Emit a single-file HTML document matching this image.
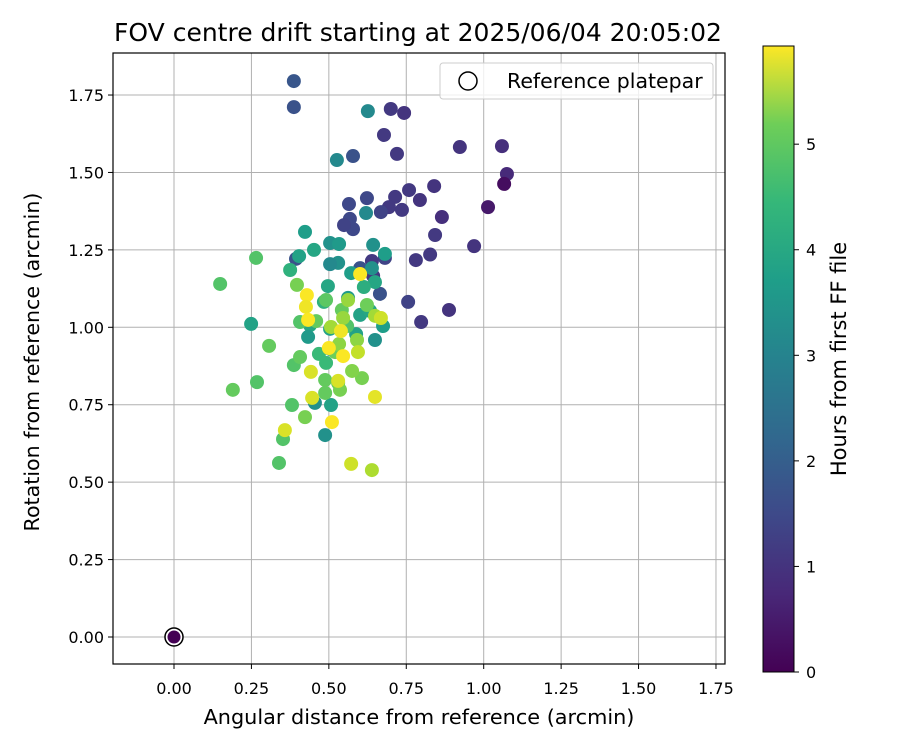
<!DOCTYPE html>
<html><head><meta charset="utf-8"><style>
body{margin:0;background:#fff;}
svg text{font-family:"DejaVu Sans","Liberation Sans",sans-serif;fill:#000;}
</style></head><body>
<svg id="chart" width="900" height="750" xmlns="http://www.w3.org/2000/svg">
<defs><linearGradient id="vir" x1="0" y1="1" x2="0" y2="0">
<stop offset="0" stop-color="#440154"/><stop offset="0.125" stop-color="#482878"/><stop offset="0.25" stop-color="#3e4989"/><stop offset="0.375" stop-color="#31688e"/><stop offset="0.5" stop-color="#26828e"/><stop offset="0.625" stop-color="#1f9e89"/><stop offset="0.75" stop-color="#35b779"/><stop offset="0.875" stop-color="#6ece58"/><stop offset="1" stop-color="#fde725"/>
</linearGradient></defs>
</svg>
<script>
const xs=[0.387,0.387,0.743,0.70,0.678,0.72,0.923,1.059,1.075,1.066,1.014,0.969,0.888,0.798,0.756,0.781,0.827,0.843,0.865,0.84,0.794,0.759,0.714,0.694,0.736,0.668,0.681,0.639,0.643,0.665,0.578,0.568,0.565,0.623,0.578,0.394,0.549,0.601,
0.626,0.526,0.62,0.423,0.452,0.404,0.375,0.504,0.533,0.53,0.504,0.643,0.681,0.639,0.649,0.613,0.497,0.572,0.562,0.601,0.633,0.675,0.649,0.588,0.439,0.433,0.249,0.484,0.504,0.455,0.507,0.488,0.504,
0.149,0.265,0.268,0.19,0.307,0.339,0.352,0.381,0.387,0.407,0.397,0.407,0.423,0.468,0.491,0.488,0.488,0.53,0.536,0.559,0.542,0.607,0.575,0.591,0.623,0.52,0.459,0.491,
0.562,0.546,0.507,0.533,0.649,0.594,
0.429,0.426,0.433,0.442,0.446,0.53,0.51,0.546,0.5,0.539,0.668,0.649,0.572,0.639,0.601,0.358];
const ys=[1.795,1.711,1.692,1.705,1.621,1.56,1.582,1.585,1.495,1.463,1.388,1.262,1.056,1.017,1.082,1.217,1.235,1.298,1.356,1.456,1.411,1.443,1.421,1.388,1.379,1.372,1.224,1.214,1.166,1.108,1.317,1.35,1.398,1.417,1.553,1.221,1.33,1.191,
1.698,1.54,1.369,1.308,1.25,1.23,1.185,1.272,1.269,1.208,1.204,1.266,1.237,1.191,1.146,1.13,1.133,1.175,1.095,1.04,1.053,1.004,0.959,0.978,1.007,0.969,1.011,1.082,0.995,0.756,0.749,0.652,0.93,
1.14,1.224,0.823,0.798,0.94,0.562,0.639,0.749,0.878,0.904,1.137,1.017,0.71,0.914,0.885,0.83,0.788,0.82,0.798,1.004,1.056,0.836,0.859,0.959,1.072,0.92,1.02,1.088,
1.088,1.03,1.001,0.946,1.037,0.92,
1.104,1.066,1.024,0.856,0.772,0.827,0.694,0.907,0.933,0.988,1.03,0.775,0.559,0.539,1.172,0.668];
const hours=[1.6,1.5,0.9,1.0,1.0,1.0,0.9,0.8,0.7,0.2,0.4,0.9,0.9,1.0,1.2,1.0,1.0,1.0,0.8,0.9,0.9,1.0,1.0,1.0,1.0,1.2,1.2,1.0,1.0,1.5,1.3,1.3,1.3,1.3,1.5,1.5,1.2,1.5,
2.8,2.8,2.8,3.3,3.5,3.4,3.8,3.0,3.2,3.0,2.8,3.0,3.3,3.0,3.5,3.7,3.5,3.3,3.2,3.4,3.5,3.3,3.0,3.4,3.5,3.2,3.4,3.8,3.4,3.0,3.4,3.0,3.2,
4.3,4.3,4.3,4.5,4.5,4.3,4.3,4.3,4.3,4.5,4.7,4.3,4.7,4.0,4.0,4.5,4.5,4.5,4.7,4.3,4.5,4.7,4.8,4.9,4.6,4.6,4.5,4.4,
5.0,5.0,5.1,4.9,5.1,5.4,
5.9,5.8,5.9,5.6,5.6,5.6,5.9,5.9,5.9,5.8,5.5,5.7,5.5,5.2,5.9,5.6];
const xTicks=[0,0.25,0.5,0.75,1.0,1.25,1.5,1.75];
const yTicks=[0,0.25,0.5,0.75,1.0,1.25,1.5,1.75];
const cTicks=[0,1,2,3,4,5];
const HMAX=5.93;
const L=113,R=725,T=53,B=664;
const sx=v=>174+v*309.7, sy=v=>637-v*309.7;
const cs=v=>672-v*(626/HMAX);
const vir=[[68,1,84],[72,40,120],[62,73,137],[49,104,142],[38,130,142],[31,158,137],[53,183,121],[110,206,88],[181,222,43],[253,231,37]];
function col(h){let t=Math.max(0,Math.min(1,h/HMAX))*(vir.length-1);let i=Math.min(vir.length-2,Math.floor(t)),f=t-i;
return 'rgb('+vir[i].map((c,k)=>Math.round(c+(vir[i+1][k]-c)*f)).join(',')+')';}
const svg=document.getElementById('chart');const NS='http://www.w3.org/2000/svg';
function mk(tag,at,txt){const e=document.createElementNS(NS,tag);for(const k in at)e.setAttribute(k,at[k]);if(txt!==undefined)e.textContent=txt;svg.appendChild(e);return e;}
xTicks.forEach(v=>{const x=sx(v);
const g=mk('line',{x1:x,x2:x,y1:T,y2:B,stroke:'#b0b0b0','stroke-width':1});


const tk=mk('line',{x1:x,x2:x,y1:B,y2:B+5,stroke:'#000','stroke-width':1});


const t=mk('text',{x:x,y:B+30,'text-anchor':'middle','font-size':16},v.toFixed(2));

});
yTicks.forEach(v=>{const y=sy(v);
const g=mk('line',{x1:L,x2:R,y1:y,y2:y,stroke:'#b0b0b0','stroke-width':1});


const tk=mk('line',{x1:L-5,x2:L,y1:y,y2:y,stroke:'#000','stroke-width':1});


const t=mk('text',{x:L-9,y:y+6,'text-anchor':'end','font-size':16},v.toFixed(2));

});
xs.forEach((x,i)=>{const c=mk('circle',{cx:sx(x),cy:sy(ys[i]),r:7,fill:col(hours[i])});

});
const ring=mk('circle',{cx:sx(0),cy:sy(0),r:9,fill:'#fff',stroke:'#000','stroke-width':1.5});


const rp=mk('circle',{cx:sx(0),cy:sy(0),r:6.5,fill:col(0)});


const fr=mk('rect',{x:L,y:T,width:R-L,height:B-T,fill:'none',stroke:'#000','stroke-width':1.2});


const lg=mk('rect',{x:440,y:63,width:273,height:36,rx:3,fill:'#fff','fill-opacity':0.8,stroke:'#ccc'});


const lc=mk('circle',{cx:468,cy:81,r:9,fill:'#fff',stroke:'#000','stroke-width':1.5});


const lt=mk('text',{x:507,y:88,'font-size':20.5},'Reference platepar');


const ti=mk('text',{x:418,y:41,'text-anchor':'middle','font-size':25},'FOV centre drift starting at 2025/06/04 20:05:02');


const xl=mk('text',{x:419,y:724,'text-anchor':'middle','font-size':20.8},'Angular distance from reference (arcmin)');


const yl=mk('text',{x:39,y:362,'text-anchor':'middle','font-size':20.6,transform:'rotate(-90 39 362)'},'Rotation from reference (arcmin)');


const cb=mk('rect',{x:763,y:46,width:31,height:626,fill:'url(#vir)',stroke:'#000','stroke-width':1});


cTicks.forEach(v=>{const y=cs(v);
const tk=mk('line',{x1:794,x2:799,y1:y,y2:y,stroke:'#000'});


const t=mk('text',{x:806,y:y+6,'font-size':16},String(v));

});
const cl=mk('text',{x:846,y:359,'text-anchor':'middle','font-size':21,transform:'rotate(-90 846 359)'},'Hours from first FF file');


</script>
</body></html>
